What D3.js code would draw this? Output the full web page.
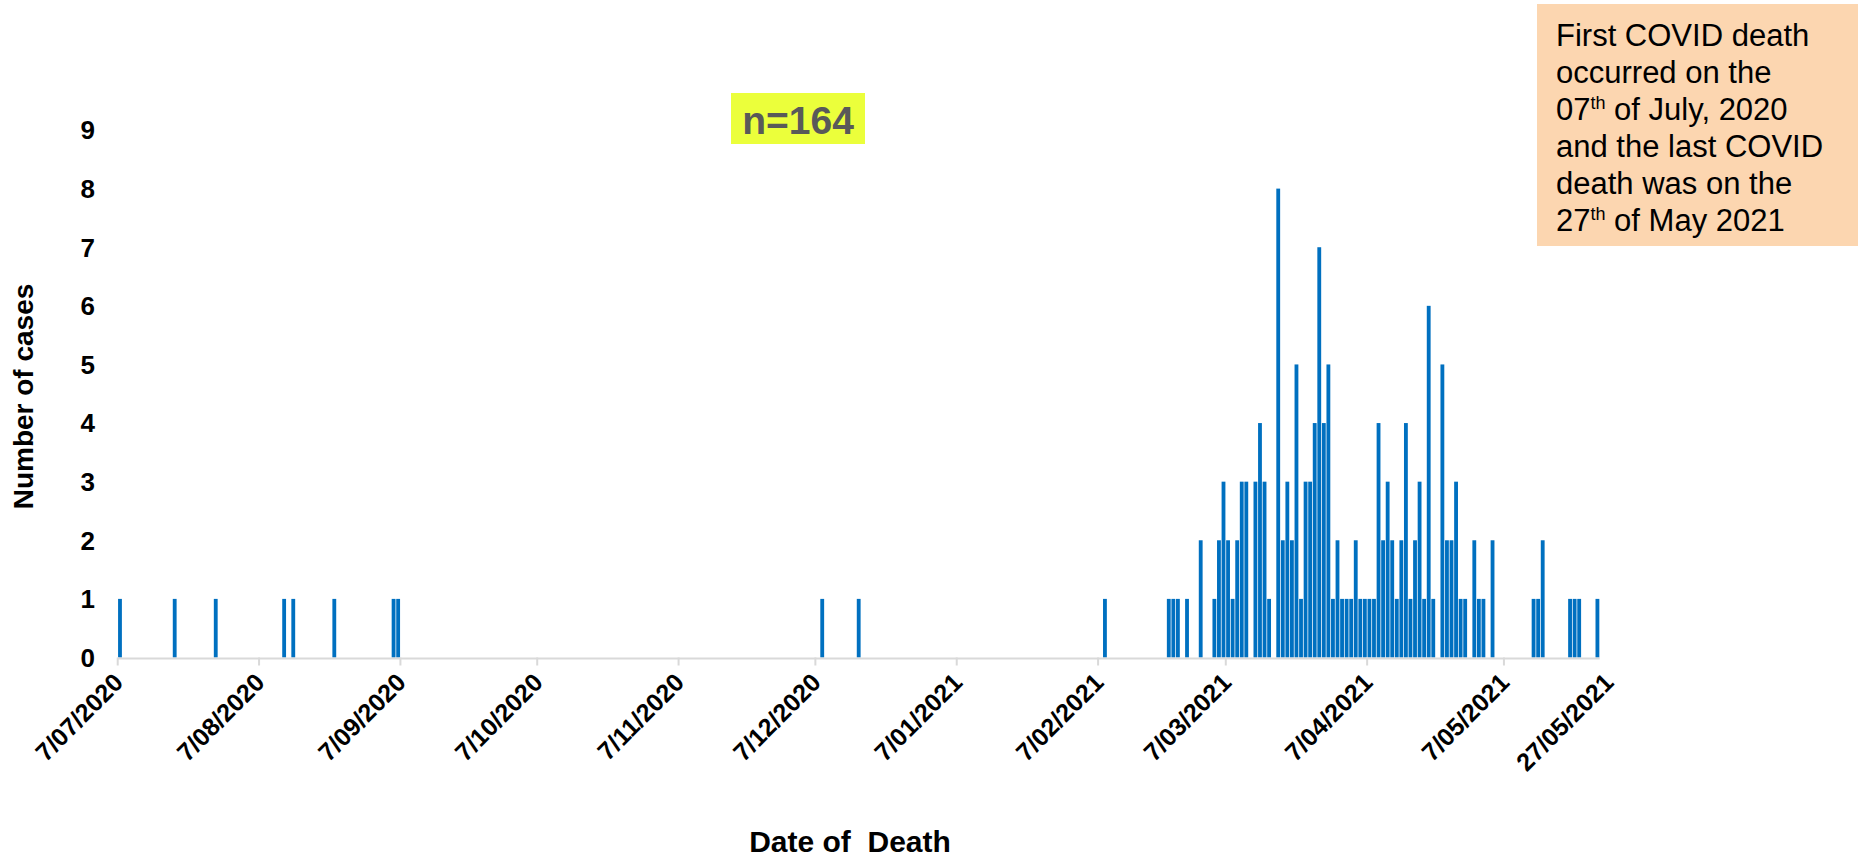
<!DOCTYPE html>
<html><head><meta charset="utf-8">
<script src="https://cdn.jsdelivr.net/npm/d3@7/dist/d3.min.js"></script>
<style>body{margin:0;background:#fff}svg{display:block}</style>
</head><body>
<svg id="chart" width="1867" height="862"></svg>
<script>
// ---- data ----
const deathDates = [
  "2020-07-07","2020-07-19","2020-07-28","2020-08-12","2020-08-14","2020-08-23","2020-09-05","2020-09-06",
  "2020-12-08","2020-12-16","2021-02-08",
  "2021-02-22","2021-02-23","2021-02-24","2021-02-26","2021-03-01",
  "2021-03-04","2021-03-05","2021-03-06","2021-03-07","2021-03-08","2021-03-09","2021-03-10","2021-03-11",
  "2021-03-13","2021-03-14","2021-03-15","2021-03-16",
  "2021-03-18","2021-03-19","2021-03-20","2021-03-21","2021-03-22","2021-03-23","2021-03-24","2021-03-25",
  "2021-03-26","2021-03-27","2021-03-28","2021-03-29","2021-03-30","2021-03-31",
  "2021-04-01","2021-04-02","2021-04-03","2021-04-04","2021-04-05","2021-04-06","2021-04-07","2021-04-08",
  "2021-04-09","2021-04-10","2021-04-11","2021-04-12","2021-04-13","2021-04-14","2021-04-15","2021-04-16",
  "2021-04-17","2021-04-18","2021-04-19","2021-04-20","2021-04-21",
  "2021-04-23","2021-04-24","2021-04-25","2021-04-26","2021-04-27","2021-04-28",
  "2021-04-30","2021-05-01","2021-05-02","2021-05-04",
  "2021-05-13","2021-05-14","2021-05-15","2021-05-21","2021-05-22","2021-05-23","2021-05-27"
];
const deathCounts = [
  1,1,1,1,1,1,1,1,
  1,1,1,
  1,1,1,1,2,
  1,2,3,2,1,2,3,3,
  3,4,3,1,
  8,2,3,2,5,1,3,3,
  4,7,4,5,1,2,
  1,1,1,2,1,1,1,1,
  4,2,3,2,1,2,4,1,
  2,3,1,6,1,
  5,2,2,3,1,1,
  2,1,1,2,
  1,1,2,1,1,1,1
];
const tickDates = ["2020-07-07","2020-08-07","2020-09-07","2020-10-07","2020-11-07","2020-12-07",
  "2021-01-07","2021-02-07","2021-03-07","2021-04-07","2021-05-07","2021-05-27"];
const tickLabels = ["7/07/2020","7/08/2020","7/09/2020","7/10/2020","7/11/2020","7/12/2020",
  "7/01/2021","7/02/2021","7/03/2021","7/04/2021","7/05/2021","27/05/2021"];
const yTicks = [0,1,2,3,4,5,6,7,8,9];
const axisStart = "2020-07-07";
const axisEnd = "2021-05-28";
const yTitle = "Number of cases";
const xTitle = "Date of  Death";
const sampleLabel = "n=164";
const noteLines = [
  [["First COVID death",""]],
  [["occurred on the",""]],
  [["07",""],["th","sup"],[" of July, 2020",""]],
  [["and the last COVID",""]],
  [["death was on the",""]],
  [["27",""],["th","sup"],[" of May 2021",""]]
];

// ---- drawing ----
const parse = d3.utcParse("%Y-%m-%d");
const data = deathDates.map((d,i)=>({date:parse(d), v:deathCounts[i]}));
const svg = d3.select("#chart");
const FONT = "'Liberation Sans', Arial, Helvetica, sans-serif";
const base = 657.5;

const x = d3.scaleUtc().domain([parse(axisStart), parse(axisEnd)]).range([117.7, 1599.7]);
const y = d3.scaleLinear().domain([0, 9]).range([base, 130]);

// bars
svg.append("g").selectAll("rect").data(data).join("rect")
  .attr("x", d => { const a = x(d.date), b = x(d3.utcDay.offset(d.date,1)); return a + (b-a)*0.08; })
  .attr("width", d => { const a = x(d.date), b = x(d3.utcDay.offset(d.date,1)); return (b-a)*0.84; })
  .attr("y", d => y(d.v))
  .attr("height", d => y(0) - y(d.v))
  .attr("fill", "#0070C0");

// x axis line
svg.append("line").attr("x1", x.range()[0]).attr("x2", x.range()[1])
  .attr("y1", base + 1).attr("y2", base + 1)
  .attr("stroke", "#D9D9D9").attr("stroke-width", 2);

const ticks = tickDates.map((d,i)=>({date:parse(d), label:tickLabels[i], last: i===tickDates.length-1}));
svg.append("g").selectAll("line").data(ticks.filter(t=>!t.last)).join("line")
  .attr("x1", d=>x(d.date)).attr("x2", d=>x(d.date))
  .attr("y1", base).attr("y2", base + 8)
  .attr("stroke", "#D9D9D9").attr("stroke-width", 2);

svg.append("g").selectAll("text").data(ticks).join("text")
  .attr("transform", d => `translate(${x(d.date) + (d.last ? 20 : 7)},${684}) rotate(-45)`)
  .attr("text-anchor", "end")
  .attr("font-family", FONT).attr("font-weight", "bold").attr("font-size", 25)
  .attr("fill", "#000")
  .text(d => d.label);

// y tick labels
svg.append("g").selectAll("text").data(yTicks).join("text")
  .attr("x", 95).attr("y", d => y(d))
  .attr("dy", "0.36em")
  .attr("text-anchor", "end")
  .attr("font-family", FONT).attr("font-weight", "bold").attr("font-size", 26)
  .text(d => d);

// axis titles
svg.append("text")
  .attr("transform", `translate(33,396.5) rotate(-90)`)
  .attr("text-anchor", "middle")
  .attr("font-family", FONT).attr("font-weight", "bold").attr("font-size", 28)
  .text(yTitle);

svg.append("text")
  .attr("x", 850).attr("y", 852)
  .attr("text-anchor", "middle")
  .attr("xml:space", "preserve").style("white-space", "pre")
  .attr("font-family", FONT).attr("font-weight", "bold").attr("font-size", 30)
  .text(xTitle);

// n label
svg.append("rect").attr("x", 731).attr("y", 93).attr("width", 134).attr("height", 51).attr("fill", "#EBFF3B");
svg.append("text").attr("x", 798).attr("y", 134).attr("text-anchor", "middle")
  .attr("font-family", FONT).attr("font-weight", "bold").attr("font-size", 39).attr("fill", "#595959")
  .text(sampleLabel);

// annotation
svg.append("rect").attr("x", 1537).attr("y", 4).attr("width", 321).attr("height", 242).attr("fill", "#FCD6B0");
const note = svg.append("text").attr("font-family", FONT).attr("font-size", 31).attr("fill", "#000");
noteLines.forEach((parts, i) => {
  const line = note.append("tspan").attr("x", 1556).attr("y", 46 + i*37);
  parts.forEach(([t, kind], j) => {
    if (kind === "sup") {
      line.append("tspan").attr("font-size", 18).attr("dy", -11).text(t);
    } else {
      const ts = line.append("tspan").text(t);
      if (j > 0) ts.attr("dy", 11);
    }
  });
});
</script>
</body></html>
